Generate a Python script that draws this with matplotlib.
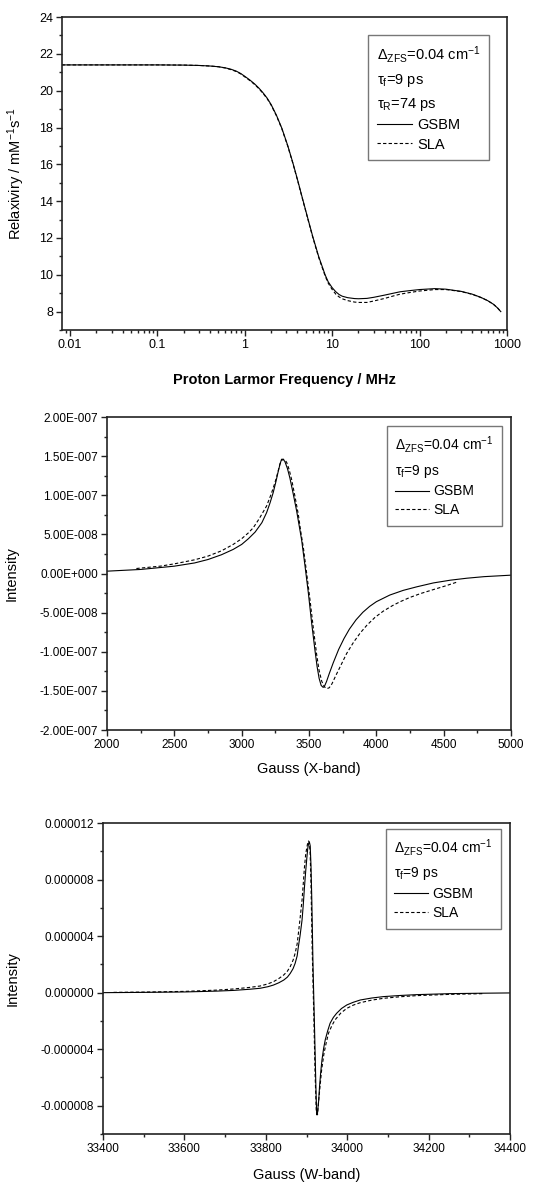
"""
Relaxivity profile and simulated EPR spectra (GSBM vs SLA), three stacked panels.
"""

import matplotlib
matplotlib.use("Agg")
import matplotlib.pyplot as plt
from matplotlib.lines import Line2D
from matplotlib.ticker import MultipleLocator, FuncFormatter, LogLocator, NullFormatter

plt.rcParams["font.family"] = ["Liberation Sans", "DejaVu Sans"]
plt.rcParams["mathtext.fontset"] = "custom"
plt.rcParams["mathtext.rm"] = "Liberation Sans"
plt.rcParams["mathtext.it"] = "Liberation Sans:italic"
plt.rcParams["mathtext.bf"] = "Liberation Sans:bold"

# ---- panel 1: NMRD profile (MHz, mM^-1 s^-1)
nmrd_freq = [0.008, 0.02, 0.05, 0.1, 0.2, 0.3, 0.4, 0.5, 0.6, 0.7, 0.8, 0.9,
             1.0, 1.15, 1.3, 1.45, 1.62, 1.8, 2.0, 2.3, 2.65, 3.1, 3.55, 4.0,
             4.6, 5.3, 6.0, 7.0, 8.3, 9.0, 10.0, 11.0, 12.0, 13.0, 15.0, 18.0,
             20.0, 25.0, 30.0, 40.0, 50.0, 60.0, 80.0, 100.0, 150.0, 200.0,
             300.0, 400.0, 500.0, 600.0, 700.0, 780.0, 850.0]
nmrd_gsbm = [21.4, 21.4, 21.4, 21.4, 21.39, 21.37, 21.34, 21.3, 21.24, 21.16,
             21.06, 20.93, 20.78, 20.57, 20.36, 20.14, 19.88, 19.6, 19.25,
             18.67, 17.97, 17.02, 16.08, 15.19, 14.1, 13.01, 12.07, 11.0,
             10.0, 9.62, 9.3, 9.08, 8.93, 8.84, 8.76, 8.71, 8.7, 8.72, 8.78,
             8.9, 9.0, 9.08, 9.15, 9.2, 9.25, 9.22, 9.1, 8.95, 8.78, 8.6, 8.4,
             8.2, 8.0]
nmrd_sla = [21.4, 21.4, 21.4, 21.4, 21.39, 21.37, 21.34, 21.3, 21.23, 21.14,
            21.04, 20.91, 20.75, 20.54, 20.33, 20.11, 19.85, 19.57, 19.22,
            18.64, 17.94, 16.99, 16.05, 15.16, 14.07, 12.98, 12.03, 10.95,
            9.94, 9.55, 9.2, 8.95, 8.8, 8.7, 8.6, 8.52, 8.5, 8.5, 8.58, 8.72,
            8.85, 8.95, 9.05, 9.12, 9.2, 9.2, 9.09, 8.94, 8.77, 8.6, 8.4, 8.2,
            8.0]

# ---- panel 2: X-band spectrum (Gauss, intensity in 1e-8)
xband_gauss_gsbm = [2000, 2250, 2500, 2650, 2750, 2850, 2937, 3000, 3050, 3100,
                    3150, 3185, 3210, 3234, 3255, 3272, 3285, 3296, 3308, 3321,
                    3340, 3358, 3380, 3408, 3430, 3445, 3470, 3495, 3520, 3544,
                    3560, 3575, 3590, 3605, 3615, 3630, 3650, 3680, 3720, 3760,
                    3800, 3850, 3900, 3950, 4000, 4100, 4200, 4300, 4424, 4550,
                    4672, 4800, 5000]
xband_int_gsbm = [0.30, 0.52, 0.94, 1.35, 1.79, 2.4, 3.08, 3.72, 4.45, 5.3,
                  6.5, 7.78, 9.0, 10.34, 11.8, 13.1, 14.0, 14.6, 14.6, 14.3,
                  13.4, 12.2, 10.4, 8.0, 5.8, 4.3, 1.0, -2.48, -6.4, -9.8,
                  -11.9, -13.4, -14.3, -14.55, -14.4, -13.8, -12.8, -11.4,
                  -9.7, -8.3, -7.1, -5.9, -4.95, -4.2, -3.6, -2.75, -2.15,
                  -1.7, -1.2, -0.85, -0.6, -0.4, -0.21]
xband_gauss_sla = [2218, 2400, 2501, 2650, 2749, 2850, 2937, 3000, 3050, 3086,
                   3130, 3185, 3220, 3247, 3268, 3284, 3297, 3309, 3322, 3334,
                   3352, 3371, 3395, 3420, 3440, 3458, 3482, 3507, 3532, 3557,
                   3575, 3595, 3615, 3635, 3650, 3670, 3700, 3740, 3780, 3830,
                   3880, 3930, 3990, 4052, 4120, 4177, 4250, 4330, 4424, 4510,
                   4598]
xband_int_sla = [0.64, 0.95, 1.24, 1.75, 2.22, 2.9, 3.72, 4.45, 5.2, 5.85,
                 7.0, 8.63, 10.2, 11.6, 12.9, 14.0, 14.45, 14.6, 14.5, 14.2,
                 13.3, 12.0, 9.9, 7.6, 5.2, 3.3, 0.09, -3.33, -7.0, -10.4,
                 -12.4, -13.8, -14.5, -14.7, -14.6, -14.1, -13.0, -11.6,
                 -10.2, -8.8, -7.6, -6.6, -5.6, -4.8, -4.1, -3.6, -3.05,
                 -2.55, -2.05, -1.6, -1.1]

# ---- panel 3: W-band spectrum (Gauss, intensity in 1e-6)
wband_gauss_gsbm = [33400, 33500, 33601, 33680, 33721, 33760, 33786, 33805,
                    33819, 33832, 33844, 33853, 33860, 33867, 33872, 33877,
                    33880, 33884, 33889, 33892, 33895, 33898, 33901, 33903,
                    33905, 33907, 33909, 33911, 33913, 33916, 33920, 33923,
                    33925, 33927, 33930, 33932, 33935, 33938, 33942, 33946,
                    33952, 33958, 33966, 33974, 33986, 33999, 34015, 34032,
                    34060, 34089, 34130, 34171, 34253, 34330, 34400]
wband_int_gsbm = [0.0, 0.02, 0.05, 0.11, 0.16, 0.24, 0.31, 0.42, 0.54, 0.7,
                  0.89, 1.1, 1.36, 1.7, 2.07, 2.6, 3.25, 4.0, 5.13, 6.2, 7.48,
                  8.6, 9.6, 10.2, 10.54, 10.66, 10.4, 9.0, 6.54, 1.84, -2.87,
                  -6.64, -8.64, -8.5, -7.6, -6.64, -5.6, -4.75, -3.95, -3.34,
                  -2.7, -2.16, -1.75, -1.46, -1.12, -0.87, -0.68, -0.52,
                  -0.38, -0.28, -0.2, -0.14, -0.07, -0.04, -0.02]
wband_gauss_sla = [33426, 33500, 33601, 33680, 33721, 33760, 33786, 33805,
                   33819, 33832, 33844, 33853, 33860, 33867, 33872, 33877,
                   33880, 33884, 33889, 33892, 33895, 33898, 33901, 33903,
                   33905, 33907, 33909, 33911, 33914, 33918, 33921, 33924,
                   33927, 33930, 33933, 33937, 33943, 33948, 33954, 33962,
                   33970, 33984, 33999, 34015, 34032, 34060, 34089, 34130,
                   34171, 34253, 34334]
wband_int_sla = [0.02, 0.04, 0.09, 0.18, 0.26, 0.37, 0.47, 0.62, 0.78, 1.0,
                 1.25, 1.52, 1.84, 2.3, 2.78, 3.45, 4.19, 5.2, 6.54, 7.7,
                 8.89, 9.8, 10.3, 10.6, 10.73, 10.6, 9.8, 7.72, 3.01, -1.69,
                 -5.69, -8.4, -8.64, -7.58, -6.7, -5.5, -4.28, -3.6, -2.87,
                 -2.35, -1.93, -1.45, -1.11, -0.88, -0.71, -0.53, -0.4,
                 -0.29, -0.21, -0.12, -0.07]

param_zfs = "Δ$_{\\mathrm{ZFS}}$=0.04 cm$^{\\mathrm{-1}}$"
param_tv = "τ$_{\\mathrm{f}}$=9 ps"
param_tr = "τ$_{\\mathrm{R}}$=74 ps"

LINE_KW = dict(color="black", linewidth=0.8)
DASH_KW = dict(color="black", linewidth=0.8, linestyle=(0, (3, 2)))


def style_axes(ax):
    for spine in ax.spines.values():
        spine.set_linewidth(1.2)
        spine.set_color("#222222")
    ax.tick_params(which="both", direction="out", top=False, right=False,
                   labelsize=8.5, width=1.0, color="#222222")
    ax.tick_params(which="major", length=4, pad=2.5)
    ax.tick_params(which="minor", length=2.5)


def add_legend(ax, title, anchor, size):
    handles = [Line2D([], [], **LINE_KW), Line2D([], [], **DASH_KW)]
    leg = ax.legend(handles, ["GSBM", "SLA"], title=title, loc="upper right",
                    bbox_to_anchor=anchor, fontsize=size, title_fontsize=size,
                    alignment="left", frameon=True, fancybox=False,
                    handlelength=2.4, handletextpad=0.35, labelspacing=0.35,
                    borderpad=0.6, borderaxespad=0.0)
    leg.get_frame().set_edgecolor("#555555")
    leg.get_frame().set_linewidth(1.0)
    leg.get_title().set_linespacing(1.6)
    return leg


def sci_label(v, pos):
    mant, exp = f"{v:.2E}".split("E")
    return f"{mant}E{int(exp):+04d}"


def fixed_label(v, pos):
    return f"{round(v, 9) + 0.0:.6f}"


fig = plt.figure(figsize=(5.34, 11.83), dpi=100)

# panel 1
ax1 = fig.add_axes([0.1161, 0.7210, 0.8333, 0.2646])
ax1.plot(nmrd_freq, nmrd_gsbm, **LINE_KW)
ax1.plot(nmrd_freq, nmrd_sla, **DASH_KW)
ax1.set_xscale("log")
ax1.set_xlim(0.0081, 1000)
ax1.set_ylim(7, 24)
ax1.xaxis.set_major_locator(LogLocator(base=10, numticks=10))
ax1.xaxis.set_minor_locator(LogLocator(base=10, subs=range(2, 10), numticks=20))
ax1.xaxis.set_minor_formatter(NullFormatter())
ax1.xaxis.set_major_formatter(FuncFormatter(lambda v, p: f"{v:g}"))
ax1.yaxis.set_major_locator(MultipleLocator(2))
ax1.yaxis.set_minor_locator(MultipleLocator(1))
style_axes(ax1)
ax1.tick_params(axis="both", labelsize=9)
ax1.set_xlabel("Proton Larmor Frequency / MHz", fontsize=10.5, fontweight="bold", va="top")
ax1.set_ylabel("Relaxiviry / mM$^{\\mathrm{-1}}$s$^{\\mathrm{-1}}$", fontsize=10.5)
ax1.xaxis.set_label_coords(0.5, -0.138)
ax1.yaxis.set_label_coords(-0.079, 0.5)
add_legend(ax1, "\n".join([param_zfs, param_tv, param_tr]), (0.96, 0.942), 10.5)

# panel 2
ax2 = fig.add_axes([0.2004, 0.3829, 0.7566, 0.2646])
ax2.plot(xband_gauss_gsbm, [v * 1e-8 for v in xband_int_gsbm], **LINE_KW)
ax2.plot(xband_gauss_sla, [v * 1e-8 for v in xband_int_sla], **DASH_KW)
ax2.set_xlim(2000, 5000)
ax2.set_ylim(-2e-7, 2e-7)
ax2.xaxis.set_major_locator(MultipleLocator(500))
ax2.xaxis.set_minor_locator(MultipleLocator(250))
ax2.yaxis.set_major_locator(MultipleLocator(5e-8))
ax2.yaxis.set_minor_locator(MultipleLocator(2.5e-8))
ax2.yaxis.set_major_formatter(FuncFormatter(sci_label))
style_axes(ax2)
ax2.set_xlabel("Gauss (X-band)", fontsize=10.5, va="top")
ax2.set_ylabel("Intensity", fontsize=10.5)
ax2.xaxis.set_label_coords(0.5, -0.102)
ax2.yaxis.set_label_coords(-0.218, 0.5)
add_legend(ax2, "\n".join([param_zfs, param_tv]), (0.978, 0.971), 10)

# panel 3
ax3 = fig.add_axes([0.1929, 0.0414, 0.7622, 0.2629])
ax3.plot(wband_gauss_gsbm, [v * 1e-6 for v in wband_int_gsbm], **LINE_KW)
ax3.plot(wband_gauss_sla, [v * 1e-6 for v in wband_int_sla], **DASH_KW)
ax3.set_xlim(33400, 34400)
ax3.set_ylim(-1e-5, 1.2e-5)
ax3.xaxis.set_major_locator(MultipleLocator(200))
ax3.xaxis.set_minor_locator(MultipleLocator(100))
ax3.yaxis.set_major_locator(MultipleLocator(4e-6))
ax3.yaxis.set_minor_locator(MultipleLocator(2e-6))
ax3.yaxis.set_major_formatter(FuncFormatter(fixed_label))
style_axes(ax3)
ax3.set_xlabel("Gauss (W-band)", fontsize=10.5, va="top")
ax3.set_ylabel("Intensity", fontsize=10.5)
ax3.xaxis.set_label_coords(0.5, -0.109)
ax3.yaxis.set_label_coords(-0.206, 0.5)
add_legend(ax3, "\n".join([param_zfs, param_tv]), (0.978, 0.981), 10)

fig.savefig("out.png", dpi=100)
